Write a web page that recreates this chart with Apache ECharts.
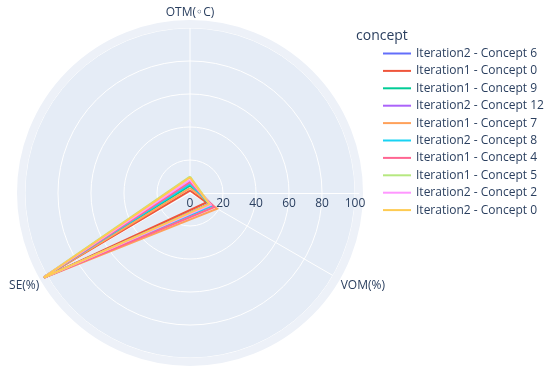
<!DOCTYPE html>
<html>
<head>
<meta charset="utf-8">
<script src="https://cdn.jsdelivr.net/npm/echarts@6/dist/echarts.min.js"></script>
<style>html,body{margin:0;padding:0;background:#fff;}#c{width:550px;height:373px;}</style>
</head>
<body>
<div id="c"></div>
<script>
var categories = ['OTM(◦C)', 'VOM(%)', 'SE(%)'];
var categoryAngles = [0, 120, 240];
var concepts = ['Iteration2 - Concept 6', 'Iteration1 - Concept 0', 'Iteration1 - Concept 9', 'Iteration2 - Concept 12', 'Iteration1 - Concept 7', 'Iteration2 - Concept 8', 'Iteration1 - Concept 4', 'Iteration1 - Concept 5', 'Iteration2 - Concept 2', 'Iteration2 - Concept 0'];
var otmValues = [5, 1.5, 4.5, 7, 3, 5.5, 6.5, 10, 8, 9.5];
var vomValues = [13.5, 11.5, 13.5, 13.5, 19, 15.5, 17, 14, 14.5, 13.5];
var seValues = [103.5, 104.5, 103.5, 103.5, 104, 103.5, 104, 103.5, 103.5, 103];
var radialTicks = [0, 20, 40, 60, 80, 100];
var colors = ['#636EFA', '#EF553B', '#00CC96', '#AB63FA', '#FFA15A', '#19D3F3', '#FF6692', '#B6E880', '#FF97FF', '#FECB52'];

var font = "'Open Sans', 'DejaVu Sans', sans-serif";
var textColor = '#2a3f5f';
var rMax = 102.4;

var series = concepts.map(function (name, i) {
  return {
    type: 'line',
    name: name,
    coordinateSystem: 'polar',
    polarIndex: 0,
    showSymbol: false,
    symbol: 'none',
    clip: false,
    z: 5,
    animation: false,
    lineStyle: { width: 2, color: colors[i], join: 'miter', miterLimit: 10 },
    itemStyle: { color: colors[i] },
    data: [
      [otmValues[i], categoryAngles[0]],
      [vomValues[i], categoryAngles[1]],
      [seValues[i], categoryAngles[2]],
      [otmValues[i], categoryAngles[0]]
    ]
  };
});

var chart = echarts.init(document.getElementById('c'), null, { renderer: 'canvas' });
chart.setOption({
  animation: false,
  textStyle: { fontFamily: font },
  title: {
    text: 'concept', left: 351, top: 24,
    textStyle: { fontFamily: font, fontSize: 14, fontWeight: 'normal', color: textColor }
  },
  legend: {
    orient: 'vertical', left: 378, top: 41.5,
    icon: 'rect', itemWidth: 28, itemHeight: 2, itemGap: 3.4,
    textStyle: { fontFamily: font, fontSize: 12, color: textColor, lineHeight: 14 },
    data: concepts
  },
  polar: [
    { center: [190, 193], radius: 169 },
    { center: [190, 193], radius: 169 }
  ],
  angleAxis: [
    {
      polarIndex: 0, type: 'value', min: 0, max: 360, interval: 120,
      startAngle: 90, clockwise: true, z: 2,
      axisLine: { show: true, lineStyle: { color: '#EDF1F8', width: 8 } },
      axisTick: { show: false },
      axisLabel: {
        show: true, margin: 5, color: textColor, fontSize: 12, fontFamily: font,
        formatter: function (v) { var k = categoryAngles.indexOf(v); return k >= 0 ? categories[k] : ''; }
      },
      splitLine: { show: true, lineStyle: { color: '#ffffff', width: 1 } },
      splitArea: { show: false }
    },
    {
      polarIndex: 1, type: 'value', min: 0, max: 360, interval: 120, startAngle: 0, z: 0,
      axisLine: { show: false }, axisTick: { show: false }, axisLabel: { show: false },
      splitLine: { show: false },
      splitArea: { show: true, areaStyle: { color: ['#E5ECF6'] } }
    }
  ],
  radiusAxis: [
    {
      polarIndex: 0, type: 'value', min: 0, max: rMax, interval: 20, z: 2,
      axisLine: { show: false }, axisTick: { show: false }, axisLabel: { show: false },
      splitLine: { show: true, lineStyle: { color: '#ffffff', width: 1 } }
    },
    {
      polarIndex: 1, type: 'value', min: 0, max: rMax, interval: 20, z: 3,
      axisLine: { show: true, lineStyle: { color: '#ffffff', width: 1 } },
      axisTick: { show: false },
      splitLine: { show: false },
      axisLabel: {
        show: true, margin: -5, verticalAlign: 'top', color: textColor, fontSize: 12, fontFamily: font,
        formatter: function (v) { return radialTicks.indexOf(v) >= 0 ? String(v) : ''; }
      }
    }
  ],
  series: series
});
</script>
</body>
</html>
